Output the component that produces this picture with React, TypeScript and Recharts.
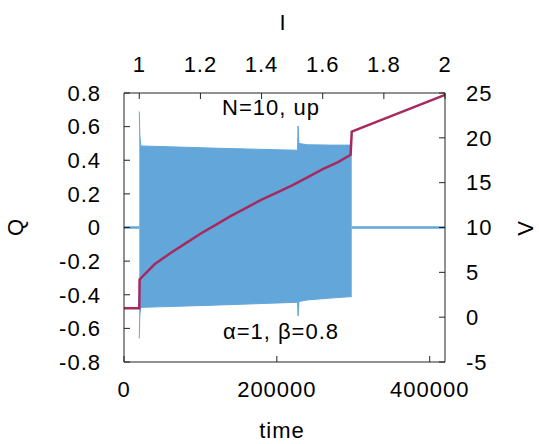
import { ComposedChart, Area, Line, XAxis, YAxis } from 'recharts';

// axis ticks
const timeTicks = [0, 200000, 400000];
const currentTicks = [1, 1.2, 1.4, 1.6, 1.8, 2];
const qTicks = [-0.8, -0.6, -0.4, -0.2, 0, 0.2, 0.4, 0.6, 0.8];
const vTicks = [-5, 0, 5, 10, 15, 20, 25];

// envelope of the Q oscillation while the current ramps up
const bandTime = [20000, 20700, 22000, 60000, 125000, 213000, 227000, 227800, 228800, 240000, 270000, 298000];
const bandLow = [-0.66, -0.52, -0.475, -0.47, -0.461, -0.447, -0.445, -0.526, -0.44, -0.431, -0.42, -0.411];
const bandHigh = [0.69, 0.55, 0.485, 0.48, 0.471, 0.461, 0.46, 0.604, 0.5, 0.492, 0.49, 0.49];

// Q at rest, before and after the oscillating stretch
const restTime = [0, 20000, 200000, 298000, 420000];
const restQ = [0, 0, null, 0, 0];

// voltage
const vTime = [0, 20000, 20400, 25000, 40000, 60000, 80000, 100000, 120000, 140000, 160000, 180000, 200000, 220000, 240000, 260000, 280000, 296500, 298000, 420000];
const vValue = [1.0, 1.0, 4.2, 4.6, 5.9, 7.1, 8.2, 9.3, 10.3, 11.3, 12.2, 13.1, 13.9, 14.7, 15.6, 16.5, 17.3, 18.1, 20.7, 24.8];

const bandData = bandTime.map((t, i) => ({ t, range: [bandLow[i], bandHigh[i]] }));
const restData = restTime.map((t, i) => ({ t, q: restQ[i] }));
const vData = vTime.map((t, i) => ({ t, v: vValue[i] }));
// empty series so the current axis on top gets drawn
const currentData = currentTicks.map((I) => ({ I, blank: null }));

const BLUE = '#63a6da';
const RED = '#a52a5f';
const AXIS = '#222';
const tickStyle = { fontSize: 22, fill: '#000' };

const fmtQ = (v: number) => (v === 0 ? '0' : v.toFixed(1));

export default function App() {
  return (
    <div
      style={{
        position: 'absolute',
        left: 0,
        top: 0,
        width: 539,
        height: 444,
        background: '#fff',
        fontFamily: '"Liberation Sans", Arial, sans-serif',
        letterSpacing: 1,
      }}
    >
      <ComposedChart width={539} height={444} margin={{ top: 0, right: 0, bottom: 0, left: 0 }}>
        <XAxis
          xAxisId="t"
          dataKey="t"
          type="number"
          domain={[0, 420000]}
          ticks={timeTicks}
          interval={0}
          height={82}
          stroke={AXIS}
          tick={tickStyle}
          tickSize={-6}
          tickMargin={25}
        />
        <XAxis
          xAxisId="I"
          dataKey="I"
          orientation="top"
          type="number"
          domain={[0.95, 2]}
          allowDataOverflow
          ticks={currentTicks}
          interval={0}
          height={93}
          stroke={AXIS}
          tick={tickStyle}
          tickSize={-6}
          tickMargin={27}
        />
        <YAxis
          yAxisId="Q"
          orientation="left"
          type="number"
          domain={[-0.8, 0.8]}
          ticks={qTicks}
          interval={0}
          tickFormatter={fmtQ}
          width={124}
          stroke={AXIS}
          tick={tickStyle}
          tickSize={-6}
          tickMargin={29}
        />
        <YAxis
          yAxisId="V"
          orientation="right"
          type="number"
          domain={[-5, 25]}
          ticks={vTicks}
          interval={0}
          width={94}
          stroke={AXIS}
          tick={tickStyle}
          tickSize={-6}
          tickMargin={27}
        />
        <Line
          xAxisId="I"
          yAxisId="V"
          data={currentData}
          dataKey="blank"
          stroke="none"
          dot={false}
          legendType="none"
          isAnimationActive={false}
        />
        <Area
          xAxisId="t"
          yAxisId="Q"
          data={bandData}
          dataKey="range"
          type="linear"
          fill={BLUE}
          fillOpacity={1}
          stroke={BLUE}
          strokeWidth={1}
          isAnimationActive={false}
        />
        <Line
          xAxisId="t"
          yAxisId="Q"
          data={restData}
          dataKey="q"
          type="linear"
          stroke={BLUE}
          strokeWidth={2.5}
          dot={false}
          connectNulls={false}
          isAnimationActive={false}
        />
        <Line
          xAxisId="t"
          yAxisId="V"
          data={vData}
          dataKey="v"
          type="linear"
          stroke={RED}
          strokeWidth={2.5}
          dot={false}
          isAnimationActive={false}
        />
        <text x={271} y={115} textAnchor="middle" fontSize={22} fill="#000">N=10, up</text>
        <text x={281} y={339} textAnchor="middle" fontSize={22} fill="#000">α=1, β=0.8</text>
        <text x={283} y={30} textAnchor="middle" fontSize={22} fill="#000">I</text>
        <text x={282} y={438} textAnchor="middle" fontSize={22} fill="#000">time</text>
        <text x={23} y={227} textAnchor="middle" fontSize={22} fill="#000" transform="rotate(-90 23 227)">Q</text>
        <text x={533} y={228} textAnchor="middle" fontSize={22} fill="#000" transform="rotate(-90 533 228)">V</text>
      </ComposedChart>
    </div>
  );
}
